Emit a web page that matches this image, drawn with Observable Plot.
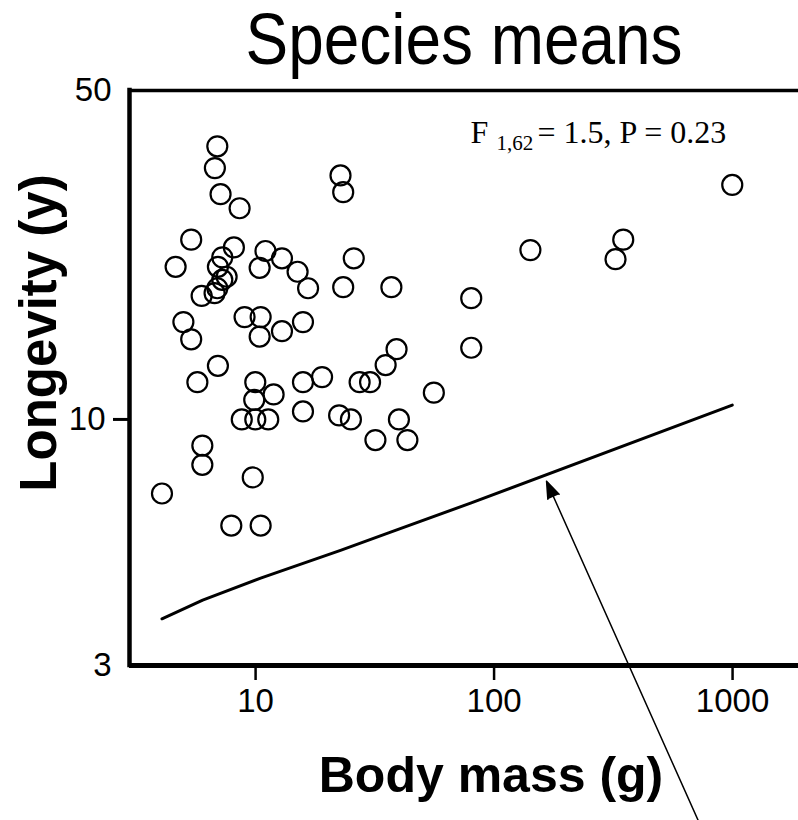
<!DOCTYPE html>
<html><head><meta charset="utf-8">
<script src="https://cdn.jsdelivr.net/npm/d3@7"></script>
<script src="https://cdn.jsdelivr.net/npm/@observablehq/plot@0.6"></script>
<style>body{margin:0;background:#fff}</style>
</head><body><div id="chart"></div>
<script>
// Species means: body mass (g) and longevity (y), one value per species
const mass = [6.91, 6.75, 7.13, 8.57, 22.7, 23.3, 5.37, 4.62, 8.11, 7.25,
  6.95, 7.56, 7.25, 6.91, 6.73, 5.94, 11.0, 10.4, 12.9, 15.0,
  16.6, 4.98, 5.37, 8.99, 10.5, 10.4, 12.9, 15.8, 6.95, 25.8,
  23.3, 37.1, 80.2, 39.0, 35.1, 80.2, 19.0, 27.3, 30.2, 5.70,
  9.97, 11.9, 9.87, 8.75, 9.97, 11.3, 15.8, 15.8, 5.98, 5.98,
  9.73, 4.05, 7.91, 10.5, 55.9, 22.4, 25.1, 39.9, 31.8, 43.3,
  997, 348, 323, 142];
const longevity = [38.05, 34.2, 30.1, 28.1, 33.0, 30.4, 24.1, 21.1, 23.2, 22.1,
  21.1, 20.1, 19.8, 19.0, 18.55, 18.3, 22.8, 21.0, 22.0, 20.6,
  19.0, 16.1, 14.8, 16.5, 16.5, 15.0, 15.4, 16.1, 13.0, 22.0,
  19.1, 19.1, 18.1, 14.1, 13.05, 14.2, 12.3, 12.0, 12.0, 12.0,
  12.0, 11.3, 11.0, 10.0, 10.0, 10.0, 12.0, 10.4, 8.80, 8.01,
  7.53, 6.96, 5.95, 5.95, 11.4, 10.2, 10.0, 10.0, 9.04, 9.04,
  31.5, 24.1, 21.9, 22.9];
// expected (allometric) line
const fitMass = [4.05, 6.0, 10.5, 22.7, 36.1, 79.7, 997];
const fitLongevity = [3.77, 4.13, 4.60, 5.27, 5.74, 6.64, 10.73];
// annotation arrow (tail, head) in data units
const arrowMass = [720, 166];
const arrowLongevity = [1.40, 7.39];
// ticks
const xTicks = [10, 100, 1000];
const yTickMid = [10];
const yTickEnds = [3, 50];
const xDomain = [2.96, 1890];
const yDomain = [3, 50];
// texts
const titleText = "Species means";
const xLabel = "Body mass (g)";
const yLabel = "Longevity (y)";
const statF = "F";
const statSub = "1,62";
const statRest = "= 1.5, P = 0.23";

const species = mass.map((m, i) => ({mass: m, longevity: longevity[i]}));
const fit = fitMass.map((m, i) => ({mass: m, longevity: fitLongevity[i]}));
const arrow = [{x1: arrowMass[0], y1: arrowLongevity[0], x2: arrowMass[1], y2: arrowLongevity[1]}];

const sans = "'Liberation Sans', Arial, Helvetica, sans-serif";
const serif = "'Liberation Serif', 'Times New Roman', serif";
const fmt = d => String(d);

const chart = Plot.plot({
  width: 798, height: 820,
  marginLeft: 129, marginRight: 0, marginTop: 90, marginBottom: 155,
  style: {fontFamily: sans, fontSize: "33px", background: "white", color: "black"},
  x: {type: "log", domain: xDomain},
  y: {type: "log", domain: yDomain},
  marks: [
    Plot.ruleY([yDomain[1]], {strokeWidth: 3.5}),
    Plot.ruleY([yDomain[0]], {strokeWidth: 5}),
    Plot.ruleX([xDomain[0]], {strokeWidth: 4.5, strokeLinecap: "square"}),
    Plot.axisX(xTicks, {tickSize: 15, tickPadding: 8, fontSize: 33, strokeWidth: 2.5, tickFormat: fmt, label: null}),
    Plot.axisY(yTickMid, {tickSize: 16, tickPadding: 8, fontSize: 33, strokeWidth: 3, tickFormat: fmt, label: null}),
    Plot.axisY(yTickEnds, {tickSize: 0, tickPadding: 18, fontSize: 33, tickFormat: fmt, label: null}),
    Plot.line(fit, {x: "mass", y: "longevity", strokeWidth: 3, stroke: "black"}),
    Plot.dot(species, {x: "mass", y: "longevity", r: 10, stroke: "black", strokeWidth: 2.2, fill: "none"}),
    Plot.arrow(arrow, {x1: "x1", y1: "y1", x2: "x2", y2: "y2", stroke: "black", strokeWidth: 1.5, headAngle: 40, headLength: 18}),
    Plot.text([titleText], {text: d => d, frameAnchor: "top", lineAnchor: "bottom", dy: -27, fontSize: 72, fontFamily: sans}),
    Plot.text([xLabel], {text: d => d, frameAnchor: "bottom", textAnchor: "middle", lineAnchor: "bottom", dx: 27, dy: 126, fontSize: 50, fontWeight: "bold", fontFamily: sans}),
    Plot.text([yLabel], {text: d => d, frameAnchor: "left", textAnchor: "middle", lineAnchor: "middle", rotate: -90, dx: -90, dy: -45, fontSize: 51, fontWeight: "bold", fontFamily: sans}),
    Plot.text([statF], {text: d => d, frameAnchor: "top-left", textAnchor: "start", lineAnchor: "bottom", dx: 341, dy: 52, fontSize: 32, fontFamily: serif}),
    Plot.text([statSub], {text: d => d, frameAnchor: "top-left", textAnchor: "start", lineAnchor: "bottom", dx: 367, dy: 59, fontSize: 21, fontFamily: serif}),
    Plot.text([statRest], {text: d => d, frameAnchor: "top-left", textAnchor: "start", lineAnchor: "bottom", dx: 408, dy: 52, fontSize: 32, fontFamily: serif})
  ]
});

const svg = d3.select(chart);
svg.selectAll('g[aria-label="arrow"] path').attr("fill", "black");
svg.selectAll("text").filter(function() { return this.textContent === titleText; })
  .attr("textLength", 437).attr("lengthAdjust", "spacingAndGlyphs");
document.getElementById("chart").appendChild(chart);
</script>
</body></html>
